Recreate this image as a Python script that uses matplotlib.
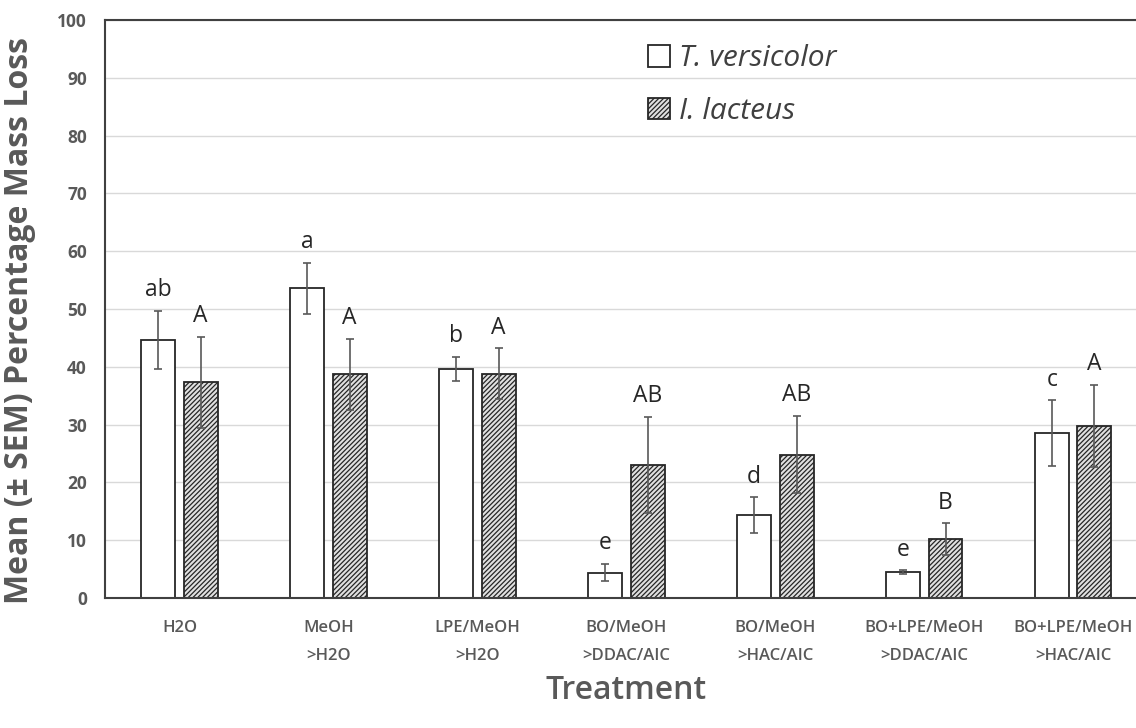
import numpy as np
import matplotlib.pyplot as plt

plt.rcParams['font.family'] = ['Open Sans', 'DejaVu Sans']
plt.rcParams['hatch.linewidth'] = 0.9

treatments = ['H2O', 'MeOH\n>H2O', 'LPE/MeOH\n>H2O', 'BO/MeOH\n>DDAC/AIC',
              'BO/MeOH\n>HAC/AIC', 'BO+LPE/MeOH\n>DDAC/AIC', 'BO+LPE/MeOH\n>HAC/AIC']
tv_mean = [44.7, 53.6, 39.6, 4.4, 14.3, 4.5, 28.5]
tv_sem = [5.0, 4.4, 2.1, 1.5, 3.1, 0.3, 5.7]
tv_letters = ['ab', 'a', 'b', 'e', 'd', 'e', 'c']
il_mean = [37.3, 38.7, 38.8, 23.0, 24.8, 10.2, 29.8]
il_sem = [7.9, 6.1, 4.4, 8.3, 6.7, 2.7, 7.1]
il_letters = ['A', 'A', 'A', 'AB', 'AB', 'B', 'A']

fig = plt.figure(figsize=(11.36, 7.28), dpi=100)
# axes runs past the right edge, like the cropped original
ax = fig.add_axes([0.0924, 0.1786, 0.918, 0.7939])

x = np.arange(len(treatments))
w = 0.228
off = 0.142
gray = '#595959'

ax.bar(x - off, tv_mean, w, color='white', edgecolor='#262626', linewidth=1.3,
       label='T. versicolor', zorder=2)
ax.bar(x + off, il_mean, w, color='#e0e0e0', edgecolor='#262626', linewidth=1.3,
       hatch='///////', label='I. lacteus', zorder=2)
ax.errorbar(x - off, tv_mean, yerr=tv_sem, fmt='none', ecolor='#595959',
            elinewidth=1.2, capsize=3, capthick=1.2, zorder=3)
ax.errorbar(x + off, il_mean, yerr=il_sem, fmt='none', ecolor='#595959',
            elinewidth=1.2, capsize=3, capthick=1.2, zorder=3)

for i in range(len(treatments)):
    ax.text(x[i] - off, tv_mean[i] + tv_sem[i] + 1.5, tv_letters[i], ha='center',
            va='bottom', fontsize=16.5, color='#262626')
    ax.text(x[i] + off, il_mean[i] + il_sem[i] + 1.5, il_letters[i], ha='center',
            va='bottom', fontsize=16.5, color='#262626')

ax.set_ylim(0, 100)
ax.set_xlim(-0.5, len(treatments) - 0.5)
ax.set_yticks(range(0, 101, 10))
ax.yaxis.grid(True, color='#d9d9d9', linewidth=1.0)
ax.set_axisbelow(True)
ax.tick_params(axis='both', length=0)
ax.tick_params(axis='y', labelsize=12.5, labelcolor=gray, pad=13)
ax.tick_params(axis='x', labelsize=12, labelcolor=gray, pad=16)
for lab in ax.get_yticklabels():
    lab.set_fontweight('bold')
ax.set_xticks(x)
ax.set_xticklabels(treatments, fontweight='semibold', linespacing=1.95)

for s in ['left', 'bottom', 'top']:
    ax.spines[s].set_color('#404040')
    ax.spines[s].set_linewidth(1.5)
ax.spines['right'].set_visible(False)

ax.set_ylabel('Mean (± SEM) Percentage Mass Loss', fontsize=23, fontweight='bold',
              color=gray)
ax.yaxis.set_label_coords(-0.066, 0.48)
ax.set_xlabel('Treatment', fontsize=23, fontweight='semibold', color=gray)
ax.xaxis.set_label_coords(0.5, -0.132)

leg = ax.legend(loc='upper left', bbox_to_anchor=(0.495, 1.005), frameon=False,
                prop={'style': 'italic', 'size': 21.5}, handlelength=0.75,
                handleheight=0.75, handletextpad=0.3, labelspacing=0.8)
for t in leg.get_texts():
    t.set_color('#404040')

fig.savefig('out.png', dpi=100)
